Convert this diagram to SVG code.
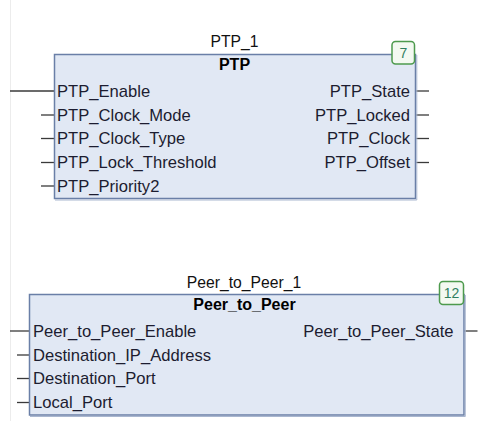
<svg xmlns="http://www.w3.org/2000/svg" width="501" height="421" viewBox="0 0 501 421">
<style>
  text { font-family: "Liberation Sans", Arial, sans-serif; }
  .title { font-size: 15.7px; fill: #111; text-anchor: middle; }
  .type { font-size: 16px; font-weight: bold; fill: #000; text-anchor: middle; }
  .pin { font-size: 16.6px; fill: #1c1c30; }
  .out { text-anchor: end; }
  .box { fill: #e1e8f4; stroke: #6a7fa7; stroke-width: 1.5; }
  .shadow { fill: none; stroke: #aab7d0; stroke-width: 1; }
  .badge { fill: #f3f9f1; stroke: #4d9a4d; stroke-width: 1.5; }
  .badgetext { font-size: 14px; fill: #2f7f5f; text-anchor: middle; }
  .wire { stroke: #3a3a3a; stroke-width: 1.3; fill: none; }
</style>
<rect x="0" y="0" width="501" height="421" fill="#ffffff"/>
<line x1="10.5" y1="0" x2="10.5" y2="421" stroke="#ececec" stroke-width="1"/>

<g id="connectors">
  <line class="wire" x1="10" y1="91" x2="54" y2="91"/>
  <line class="wire" x1="41" y1="115" x2="54" y2="115"/>
  <line class="wire" x1="41" y1="138.5" x2="54" y2="138.5"/>
  <line class="wire" x1="41" y1="162.5" x2="54" y2="162.5"/>
  <line class="wire" x1="41" y1="186" x2="54" y2="186"/>
  <line class="wire" x1="416" y1="91" x2="429" y2="91"/>
  <line class="wire" x1="416" y1="115" x2="429" y2="115"/>
  <line class="wire" x1="416" y1="138.5" x2="429" y2="138.5"/>
  <line class="wire" x1="416" y1="162.5" x2="429" y2="162.5"/>
  <line class="wire" x1="10" y1="331" x2="29" y2="331"/>
  <line class="wire" x1="17" y1="355" x2="29" y2="355"/>
  <line class="wire" x1="17" y1="378.5" x2="29" y2="378.5"/>
  <line class="wire" x1="17" y1="402.5" x2="29" y2="402.5"/>
  <line class="wire" x1="464.5" y1="331" x2="477.5" y2="331"/>
</g>

<g id="PTP_1">
  <text class="title" x="234.5" y="47">PTP_1</text>
  <rect class="box" x="54.5" y="54.5" width="361" height="144"/>
  <polyline class="shadow" points="416.8,55 416.8,200 55,200"/>
  <text class="type" x="234.5" y="69.5">PTP</text>
  <rect class="badge" x="392" y="41.5" width="22.5" height="22.5" rx="3.5"/>
  <text class="badgetext" x="403.3" y="58">7</text>
  <text class="pin" x="57" y="96.5">PTP_Enable</text>
  <text class="pin" x="57" y="120.5">PTP_Clock_Mode</text>
  <text class="pin" x="57" y="144">PTP_Clock_Type</text>
  <text class="pin" x="57" y="168">PTP_Lock_Threshold</text>
  <text class="pin" x="57" y="191.5">PTP_Priority2</text>
  <text class="pin out" x="410" y="96.5">PTP_State</text>
  <text class="pin out" x="410" y="120.5">PTP_Locked</text>
  <text class="pin out" x="410" y="144">PTP_Clock</text>
  <text class="pin out" x="410" y="168">PTP_Offset</text>
</g>

<g id="Peer_to_Peer_1">
  <text class="title" x="244" y="287.5">Peer_to_Peer_1</text>
  <rect class="box" x="29.5" y="294.5" width="434.5" height="120.5"/>
  <polyline class="shadow" points="465.3,295 465.3,416.5 30,416.5"/>
  <text class="type" x="244.5" y="310">Peer_to_Peer</text>
  <rect class="badge" x="439.5" y="281.5" width="24" height="23" rx="3.5"/>
  <text class="badgetext" x="451.5" y="298">12</text>
  <text class="pin" x="33" y="336.5">Peer_to_Peer_Enable</text>
  <text class="pin" x="33" y="360.5">Destination_IP_Address</text>
  <text class="pin" x="33" y="384">Destination_Port</text>
  <text class="pin" x="33" y="408">Local_Port</text>
  <text class="pin out" x="453.5" y="336.5">Peer_to_Peer_State</text>
</g>
</svg>
